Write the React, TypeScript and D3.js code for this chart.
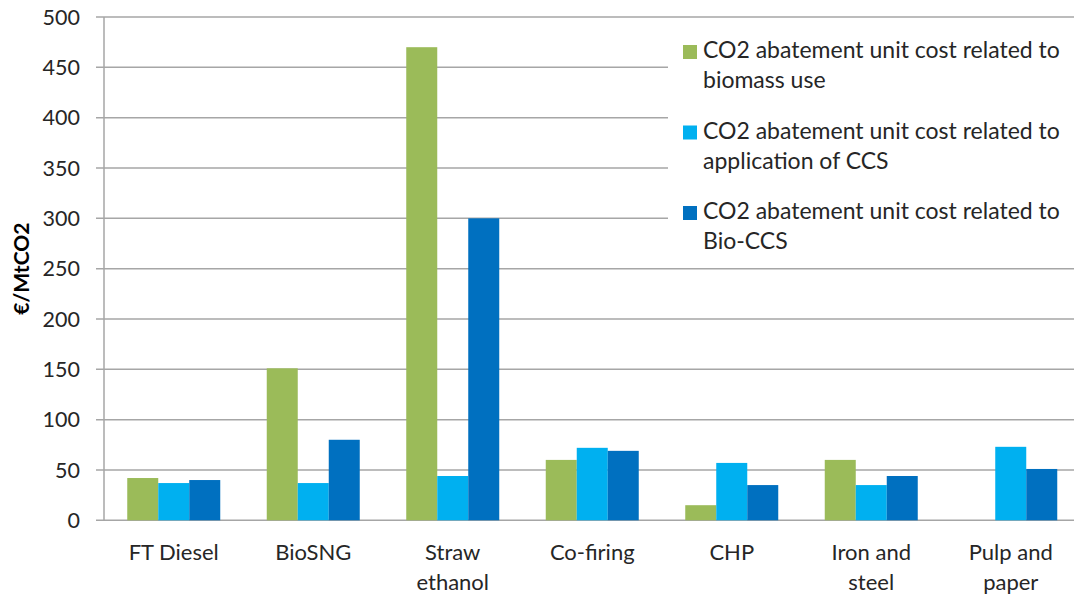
import React from "react";
import * as d3 from "d3";

const categories: string[][] = [
  ["FT Diesel"],
  ["BioSNG"],
  ["Straw", "ethanol"],
  ["Co-firing"],
  ["CHP"],
  ["Iron and", "steel"],
  ["Pulp and", "paper"],
];
const biomassUse = [42, 151, 470, 60, 15, 60, 0];
const ccsApplication = [37, 37, 44, 72, 57, 35, 73];
const bioCcs = [40, 80, 300, 69, 35, 44, 51];

const seriesNames = [
  ["CO2 abatement unit cost related to", "biomass use"],
  ["CO2 abatement unit cost related to", "application of CCS"],
  ["CO2 abatement unit cost related to", "Bio-CCS"],
];
const seriesColors = ["#9BBB59", "#00B0F0", "#0070C0"];
const yTicks = [0, 50, 100, 150, 200, 250, 300, 350, 400, 450, 500];

const W = 1074;
const H = 598;
const FONT = "Lato, 'Open Sans', sans-serif";

export default function App() {
  const left = 104;
  const right = 1080.5;
  const top = 17;
  const bottom = 520.3;

  const series = [biomassUse, ccsApplication, bioCcs];
  const keys = categories.map((c) => c.join(" "));

  const x = d3.scaleBand<string>().domain(keys).range([left, right]).paddingInner(0).paddingOuter(0);
  const groupW = x.bandwidth() / 1.5;
  const xs = d3
    .scaleBand<number>()
    .domain([0, 1, 2])
    .range([0, groupW]);
  const y = d3.scaleLinear().domain([0, 500]).range([bottom, top]);

  return (
    <svg
      width={W}
      height={H}
      style={{ position: "absolute", left: 0, top: 0, background: "#fff" }}
      fontFamily={FONT}
    >
      {/* gridlines and ticks */}
      {yTicks.map((t) => (
        <g key={t}>
          <line x1={96} x2={W} y1={y(t)} y2={y(t)} stroke="#A6A6A6" strokeWidth={1.5} />
          <text x={80} y={y(t)} dy="0.36em" textAnchor="end" fontSize={21.5} fill="#262626">
            {t}
          </text>
        </g>
      ))}
      <line x1={left} x2={left} y1={top} y2={bottom} stroke="#A6A6A6" strokeWidth={1.5} />

      {/* bars */}
      {keys.map((k, i) => {
        const g0 = (x(k) as number) + (x.bandwidth() - groupW) / 2;
        return (
          <g key={k}>
            {series.map((s, j) =>
              s[i] > 0 ? (
                <rect
                  key={j}
                  x={g0 + (xs(j) as number)}
                  y={y(s[i])}
                  width={xs.bandwidth()}
                  height={y(0) - y(s[i])}
                  fill={seriesColors[j]}
                />
              ) : null
            )}
          </g>
        );
      })}

      {/* category labels */}
      {keys.map((k, i) => {
        const cx = (x(k) as number) + x.bandwidth() / 2;
        return (
          <text key={k} x={cx} y={560} textAnchor="middle" fontSize={22} fill="#262626">
            {categories[i].map((line, li) => (
              <tspan key={li} x={cx} dy={li === 0 ? 0 : 30}>
                {line}
              </tspan>
            ))}
          </text>
        );
      })}

      {/* axis title */}
      <text
        transform={`translate(29,${(top + bottom) / 2}) rotate(-90)`}
        textAnchor="middle"
        fontSize={21}
        fontWeight="bold"
        fill="#000"
      >
        €/MtCO2
      </text>

      {/* legend */}
      <rect x={668} y={26} width={W - 668} height={236} fill="#fff" />
      {seriesNames.map((name, j) => {
        const by = 58 + j * 80.5;
        return (
          <g key={j}>
            <rect x={683} y={by - 13} width={14} height={14} fill={seriesColors[j]} />
            <text x={703} y={by} fontSize={23} fill="#262626">
              <tspan x={703}>{name[0]}</tspan>
              <tspan x={703} dy={30}>
                {name[1]}
              </tspan>
            </text>
          </g>
        );
      })}
    </svg>
  );
}
